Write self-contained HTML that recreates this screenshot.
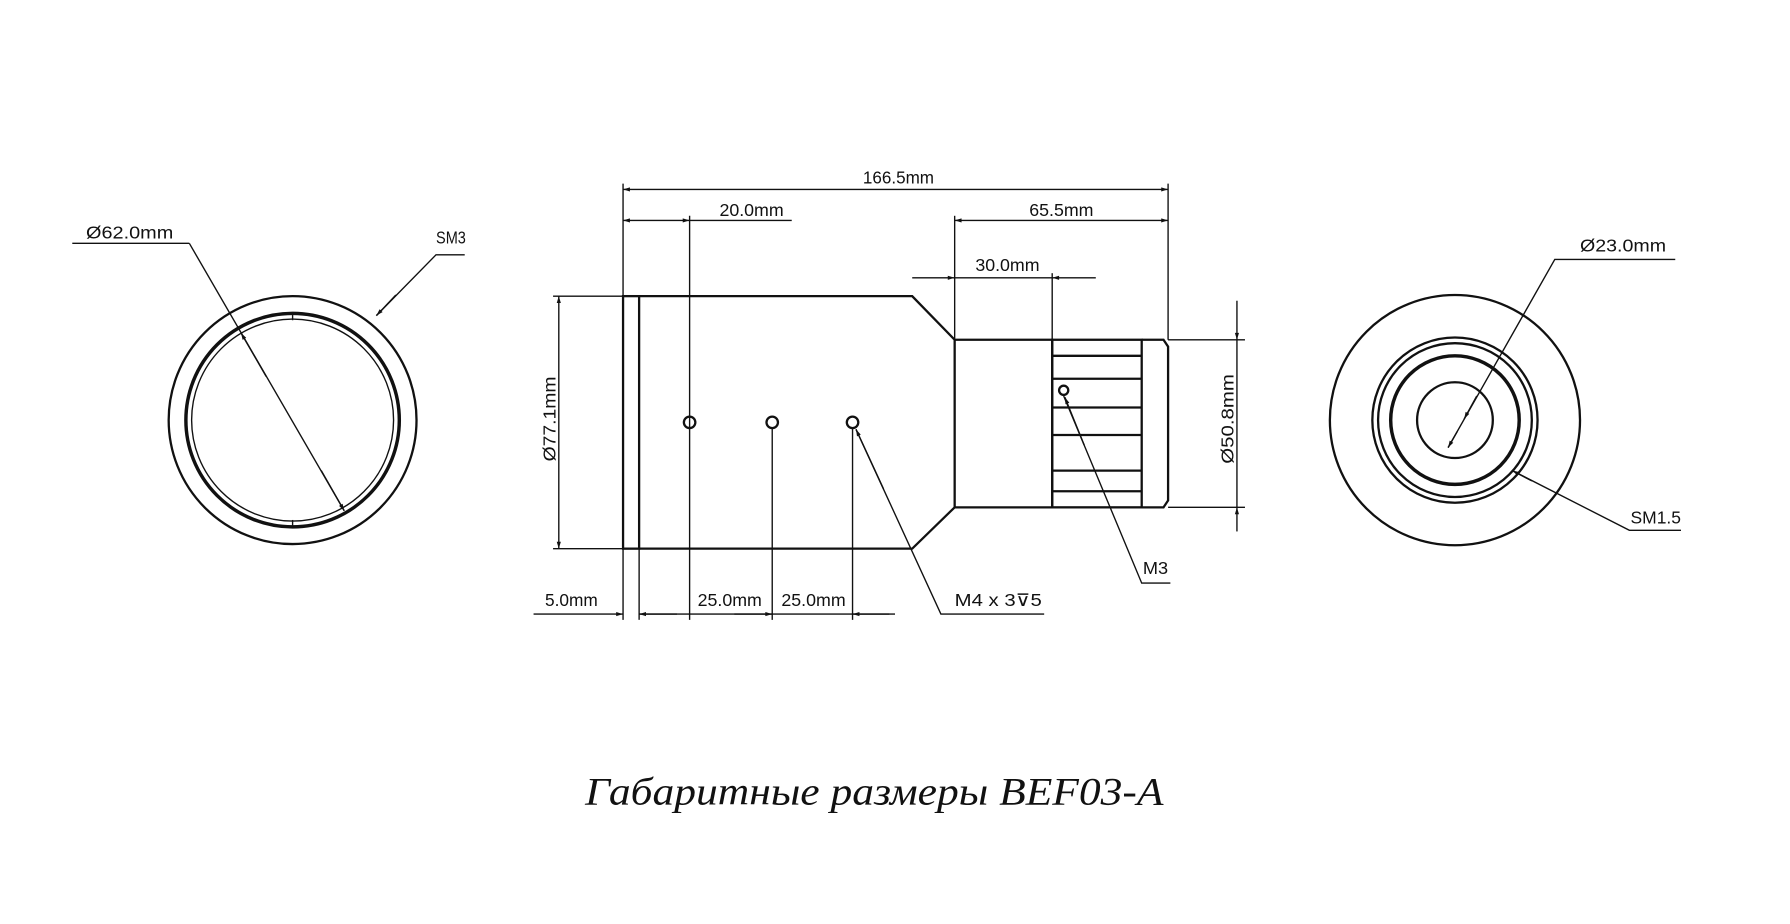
<!DOCTYPE html>
<html><head><meta charset="utf-8"><style>
html,body{margin:0;padding:0;background:#fff;width:1790px;height:924px;overflow:hidden}
svg{display:block}
text{font-family:"Liberation Sans",sans-serif;font-size:15px;fill:#111}
</style></head><body>
<svg width="1790" height="924" viewBox="0 0 1560 805" preserveAspectRatio="none">
<defs>
<marker id="a" viewBox="0 0 10 10" refX="10" refY="5" markerWidth="14" markerHeight="6" orient="auto-start-reverse" markerUnits="userSpaceOnUse"><path d="M0,2 L10,5 L0,8z" fill="#111"/></marker>
</defs>
<g stroke="#111" fill="none" stroke-width="1.2">
<circle cx="255" cy="366" r="108" stroke-width="2"/>
<circle cx="255" cy="366" r="93" stroke-width="3"/>
<circle cx="255" cy="366" r="88"/>
<line x1="255" y1="273" x2="255" y2="279"/><line x1="255" y1="453" x2="255" y2="459"/>
<line x1="63" y1="212" x2="165" y2="212"/>
<line x1="165" y1="212" x2="300" y2="445"/>
<line x1="232" y1="328" x2="210" y2="290" marker-end="url(#a)"/>
<line x1="280" y1="410" x2="300" y2="445" marker-end="url(#a)"/>
<polyline points="405,222 380,222 328,275"/>
<line x1="345" y1="257" x2="328" y2="275" marker-end="url(#a)"/>
<g stroke-width="2">
<rect x="543" y="258" width="14" height="220"/>
<polyline points="557,258 795,258 832,296 917,296 917,442 832,442 795,478 557,478"/>
<line x1="832" y1="296" x2="832" y2="442"/>
<rect x="917" y="296" width="78" height="146"/>
<polyline points="995,296 1014,296 1018,302 1018,436 1014,442 995,442"/>
<line x1="917" y1="310" x2="995" y2="310"/><line x1="917" y1="330" x2="995" y2="330"/>
<line x1="917" y1="355" x2="995" y2="355"/><line x1="917" y1="379" x2="995" y2="379"/>
<line x1="917" y1="410" x2="995" y2="410"/><line x1="917" y1="428" x2="995" y2="428"/>
<circle cx="601" cy="368" r="5" fill="#fff"/><circle cx="673" cy="368" r="5" fill="#fff"/><circle cx="743" cy="368" r="5" fill="#fff"/>
<circle cx="927" cy="340" r="4" fill="#fff"/>
</g>
<line x1="543" y1="160" x2="543" y2="540"/><line x1="557" y1="478" x2="557" y2="540"/>
<line x1="1018" y1="160" x2="1018" y2="296"/>
<line x1="543" y1="165" x2="1018" y2="165" marker-start="url(#a)" marker-end="url(#a)"/>
<line x1="601" y1="188" x2="601" y2="540"/><line x1="673" y1="373" x2="673" y2="540"/><line x1="743" y1="373" x2="743" y2="540"/>
<line x1="543" y1="192" x2="601" y2="192" marker-start="url(#a)" marker-end="url(#a)"/><line x1="601" y1="192" x2="690" y2="192"/>
<line x1="832" y1="188" x2="832" y2="296"/>
<line x1="832" y1="192" x2="1018" y2="192" marker-start="url(#a)" marker-end="url(#a)"/>
<line x1="917" y1="238" x2="917" y2="296"/>
<line x1="795" y1="242" x2="832" y2="242" marker-end="url(#a)"/><line x1="832" y1="242" x2="917" y2="242"/><line x1="955" y1="242" x2="917" y2="242" marker-end="url(#a)"/>
<line x1="482" y1="258" x2="543" y2="258"/><line x1="482" y1="478" x2="543" y2="478"/>
<line x1="487" y1="258" x2="487" y2="478" marker-start="url(#a)" marker-end="url(#a)"/>
<line x1="1018" y1="296" x2="1085" y2="296"/><line x1="1018" y1="442" x2="1085" y2="442"/>
<line x1="1078" y1="262" x2="1078" y2="296" marker-end="url(#a)"/><line x1="1078" y1="296" x2="1078" y2="442"/><line x1="1078" y1="463" x2="1078" y2="442" marker-end="url(#a)"/>
<line x1="465" y1="535" x2="543" y2="535" marker-end="url(#a)"/>
<line x1="557" y1="535" x2="780" y2="535"/>
<line x1="590" y1="535" x2="557" y2="535" marker-end="url(#a)"/>
<line x1="640" y1="535" x2="673" y2="535" marker-end="url(#a)"/>
<line x1="775" y1="535" x2="743" y2="535" marker-end="url(#a)"/>
<polyline points="910,535 820,535 746,374"/>
<line x1="770" y1="426" x2="746" y2="374" marker-end="url(#a)"/>
<polyline points="1020,508 995,508 927,345"/>
<line x1="945" y1="388" x2="928" y2="346" marker-end="url(#a)"/>
<circle cx="1268" cy="366" r="109" stroke-width="2"/>
<circle cx="1268" cy="366" r="72" stroke-width="2"/>
<circle cx="1268" cy="366" r="67" stroke-width="2"/>
<circle cx="1268" cy="366" r="56" stroke-width="3"/>
<circle cx="1268" cy="366" r="33" stroke-width="2"/>
<polyline points="1460,226 1355,226 1262,390"/>
<line x1="1276" y1="365" x2="1287" y2="345" marker-start="url(#a)"/>
<line x1="1270" y1="376" x2="1262" y2="390" marker-end="url(#a)"/>
<polyline points="1465,462 1420,462 1318,410"/>
<line x1="1335" y1="419" x2="1318" y2="410" marker-end="url(#a)"/>
</g>
<g>
<text x="75" y="208" textLength="76" lengthAdjust="spacingAndGlyphs">Ø62.0mm</text>
<text x="380" y="212" textLength="26" lengthAdjust="spacingAndGlyphs">SM3</text>
<text x="752" y="160" textLength="62" lengthAdjust="spacingAndGlyphs">166.5mm</text>
<text x="627" y="188" textLength="56" lengthAdjust="spacingAndGlyphs">20.0mm</text>
<text x="897" y="188" textLength="56" lengthAdjust="spacingAndGlyphs">65.5mm</text>
<text x="850" y="236" textLength="56" lengthAdjust="spacingAndGlyphs">30.0mm</text>
<text transform="translate(484,402) rotate(-90)" textLength="74" lengthAdjust="spacingAndGlyphs">Ø77.1mm</text>
<text transform="translate(1075,404) rotate(-90)" textLength="78" lengthAdjust="spacingAndGlyphs">Ø50.8mm</text>
<text x="475" y="528" textLength="46" lengthAdjust="spacingAndGlyphs">5.0mm</text>
<text x="608" y="528" textLength="56" lengthAdjust="spacingAndGlyphs">25.0mm</text>
<text x="681" y="528" textLength="56" lengthAdjust="spacingAndGlyphs">25.0mm</text>
<text x="832" y="528" textLength="76" lengthAdjust="spacingAndGlyphs">M4 x 3⊽5</text>
<text x="996" y="500" textLength="22" lengthAdjust="spacingAndGlyphs">M3</text>
<text x="1377" y="219" textLength="75" lengthAdjust="spacingAndGlyphs">Ø23.0mm</text>
<text x="1421" y="456" textLength="44" lengthAdjust="spacingAndGlyphs">SM1.5</text>
<text x="762" y="701" text-anchor="middle" style="font-family:'Liberation Serif',serif;font-style:italic;font-size:34px" textLength="504" lengthAdjust="spacingAndGlyphs">Габаритные размеры BEF03-A</text>
</g>
</svg>
</body></html>
